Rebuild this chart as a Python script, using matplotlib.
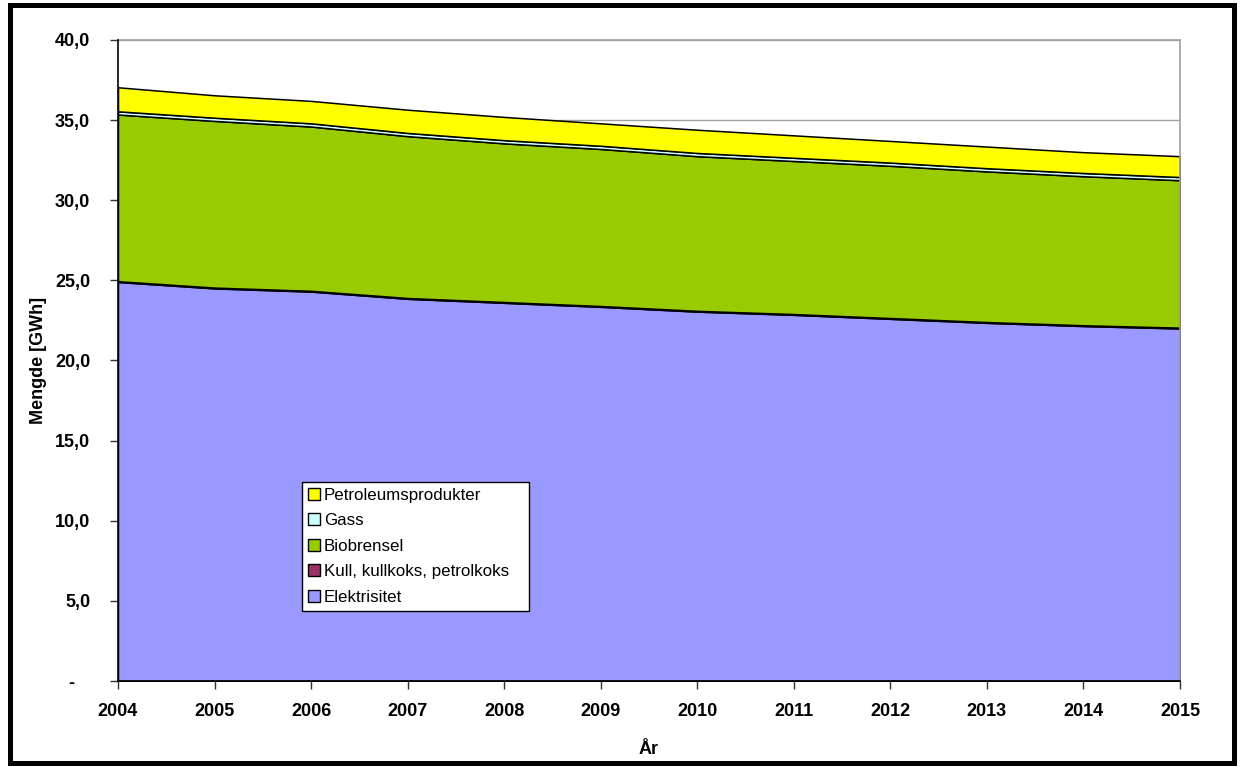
import matplotlib
matplotlib.use("Agg")
import matplotlib.pyplot as plt
from matplotlib.patches import Rectangle, Patch
from matplotlib.ticker import FixedLocator, FixedFormatter

plt.rcParams["font.family"] = ["Liberation Sans", "DejaVu Sans"]

years = [2004, 2005, 2006, 2007, 2008, 2009, 2010, 2011, 2012, 2013, 2014, 2015]

elektrisitet = [24.9, 24.5, 24.3, 23.85, 23.6, 23.35, 23.05, 22.85, 22.6, 22.35, 22.15, 22.0]
kull = [0.05, 0.05, 0.05, 0.05, 0.05, 0.05, 0.05, 0.05, 0.05, 0.05, 0.05, 0.05]
biobrensel = [10.4, 10.4, 10.25, 10.1, 9.9, 9.8, 9.65, 9.55, 9.5, 9.4, 9.3, 9.2]
gass = [0.2, 0.2, 0.2, 0.2, 0.2, 0.2, 0.2, 0.2, 0.2, 0.2, 0.2, 0.2]
petroleum = [1.5, 1.4, 1.4, 1.45, 1.45, 1.4, 1.45, 1.4, 1.35, 1.35, 1.3, 1.3]

series_names = ["Elektrisitet", "Kull, kullkoks, petrolkoks", "Biobrensel", "Gass",
                "Petroleumsprodukter"]
series_colors = ["#9999FF", "#993366", "#99CC00", "#CCFFFF", "#FFFF00"]

y_ticks = [0, 5, 10, 15, 20, 25, 30, 35, 40]
y_tick_labels = ["-   ", "5,0", "10,0", "15,0", "20,0", "25,0", "30,0", "35,0", "40,0"]

W, H = 1240, 767
fig = plt.figure(figsize=(W / 100, H / 100), dpi=100)
ax = fig.add_axes([118 / W, 1 - 681 / H, (1180 - 118) / W, (681 - 40) / H])

ax.stackplot(years, elektrisitet, kull, biobrensel, gass, petroleum,
             colors=series_colors, edgecolor="black", linewidth=1.1, zorder=2)

ax.set_xlim(years[0], years[-1])
ax.set_ylim(0, 40)
ax.set_xticks(years)
ax.set_xticklabels([str(y) for y in years])
ax.yaxis.set_major_locator(FixedLocator(y_ticks))
ax.yaxis.set_major_formatter(FixedFormatter(y_tick_labels))

ax.grid(axis="y", color="#a0a0a0", linewidth=1.0, zorder=0)
ax.set_axisbelow(True)

for side in ("top", "right"):
    ax.spines[side].set_color("#a0a0a0")
    ax.spines[side].set_linewidth(1.2)
for side in ("left", "bottom"):
    ax.spines[side].set_color("black")
    ax.spines[side].set_linewidth(1.2)
    ax.spines[side].set_zorder(3)

ax.tick_params(axis="both", direction="out", length=6, width=1.0, color="#333333",
               labelsize=13)
ax.tick_params(axis="y", pad=14)
ax.tick_params(axis="x", pad=10)
for lab in ax.get_xticklabels() + ax.get_yticklabels():
    lab.set_fontweight("bold")

ax.set_ylabel("Mengde [GWh]", fontsize=13, fontweight="bold", labelpad=6)
ax.set_xlabel("År", fontsize=13, fontweight="bold", labelpad=15)

# Legend lists the series top-down, in reverse stacking order
handles = [Patch(facecolor=c, edgecolor="black", linewidth=1.0)
           for c in series_colors][::-1]
legend_labels = series_names[::-1]
legend_labels[3] = legend_labels[3] + "   "  # extra right-hand room inside the frame
leg = ax.legend(handles, legend_labels, loc="upper left",
                bbox_to_anchor=(0.173, 0.311), fontsize=12.2, frameon=True,
                fancybox=False, shadow=False, framealpha=1.0, facecolor="white",
                handlelength=0.7, handleheight=0.7,
                handletextpad=0.25, labelspacing=0.62, borderpad=0.35,
                borderaxespad=0.0)
leg.get_frame().set_edgecolor("black")
leg.get_frame().set_linewidth(1.0)
leg.set_zorder(5)

# Outer frame around the whole chart
fig.patches.append(Rectangle((9.5 / W, 4.5 / H), (1234 - 9.5) / W, (762 - 4.5) / H,
                             transform=fig.transFigure, fill=False,
                             edgecolor="black", linewidth=3.6))

fig.savefig("out.png", dpi=100)
